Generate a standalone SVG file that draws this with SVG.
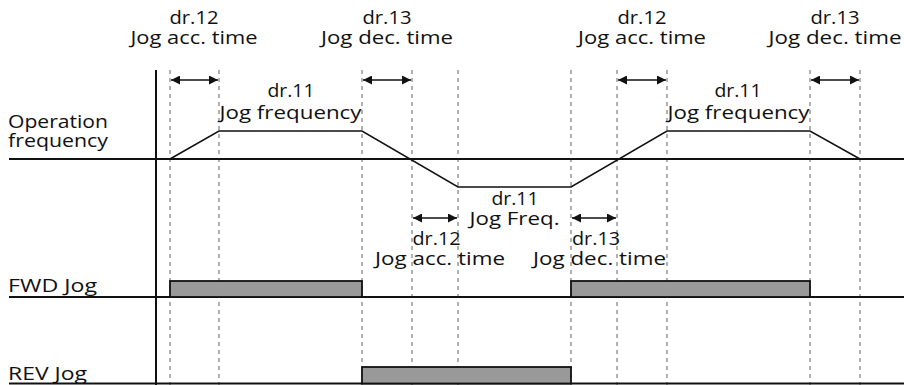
<svg xmlns="http://www.w3.org/2000/svg" width="904" height="385" viewBox="0 0 904 385">
<style>
text{font-family:"Open Sans","Noto Sans",sans-serif;font-size:18px;fill:#111}
.c{text-anchor:middle}
.dash{stroke:#888;stroke-width:1.3;stroke-dasharray:4,4;fill:none}
.base{stroke:#111;stroke-width:2;fill:none}
.wave{stroke:#111;stroke-width:1.5;fill:none}
.arr{stroke:#111;stroke-width:1.5;fill:none;marker-start:url(#ah);marker-end:url(#ah)}
.pulse{fill:#999;stroke:#111;stroke-width:1.8}
</style>
<defs>
<marker id="ah" viewBox="0 0 10 10" refX="10" refY="5" markerWidth="10" markerHeight="9" markerUnits="userSpaceOnUse" orient="auto-start-reverse">
<path d="M0,0 L10,5 L0,10 Z" fill="#111"/>
</marker>
</defs>
<g id="grid">
<line class="dash" x1="170" y1="70" x2="170" y2="385"/>
<line class="dash" x1="219" y1="70" x2="219" y2="385"/>
<line class="dash" x1="362" y1="70" x2="362" y2="385"/>
<line class="dash" x1="412" y1="70" x2="412" y2="385"/>
<line class="dash" x1="458" y1="70" x2="458" y2="385"/>
<line class="dash" x1="571" y1="70" x2="571" y2="385"/>
<line class="dash" x1="617" y1="70" x2="617" y2="385"/>
<line class="dash" x1="667" y1="70" x2="667" y2="385"/>
<line class="dash" x1="810" y1="70" x2="810" y2="385"/>
<line class="dash" x1="860" y1="70" x2="860" y2="385"/>
</g>
<g id="axes">
<line class="base" x1="156" y1="70" x2="156" y2="385"/>
<line class="base" x1="9" y1="159" x2="904" y2="159"/>
<line class="base" x1="9" y1="297" x2="904" y2="297"/>
<line class="base" x1="9" y1="383.5" x2="904" y2="383.5"/>
</g>
<g id="frequency-wave">
<polyline class="wave" points="170,159 219,131 362,131 458,187 571,187 667,131 810,131 860,159"/>
</g>
<g id="fwd-pulses">
<rect class="pulse" x="170" y="281" width="192" height="16"/>
<rect class="pulse" x="571" y="281" width="239" height="16"/>
</g>
<g id="rev-pulse">
<rect class="pulse" x="362" y="367" width="209" height="16.5"/>
</g>
<g id="connectors">
<line class="arr" x1="171" y1="80" x2="218" y2="80"/>
<line class="arr" x1="363" y1="80" x2="411" y2="80"/>
<line class="arr" x1="618" y1="80" x2="666" y2="80"/>
<line class="arr" x1="811" y1="80" x2="859" y2="80"/>
<line class="arr" x1="413" y1="218" x2="457" y2="218"/>
<line class="arr" x1="572" y1="218" x2="616" y2="218"/>
</g>
<g id="labels">
<text class="c" x="194" y="24" textLength="49" lengthAdjust="spacingAndGlyphs">dr.12</text>
<text class="c" x="194" y="43.5" textLength="127" lengthAdjust="spacingAndGlyphs">Jog acc. time</text>
<text class="c" x="387" y="24" textLength="49" lengthAdjust="spacingAndGlyphs">dr.13</text>
<text class="c" x="387" y="43.5" textLength="132" lengthAdjust="spacingAndGlyphs">Jog dec. time</text>
<text class="c" x="642" y="24" textLength="49" lengthAdjust="spacingAndGlyphs">dr.12</text>
<text class="c" x="642" y="43.5" textLength="128" lengthAdjust="spacingAndGlyphs">Jog acc. time</text>
<text class="c" x="835" y="24" textLength="49" lengthAdjust="spacingAndGlyphs">dr.13</text>
<text class="c" x="835" y="43.5" textLength="133" lengthAdjust="spacingAndGlyphs">Jog dec. time</text>
<text class="c" x="291" y="97" textLength="47" lengthAdjust="spacingAndGlyphs">dr.11</text>
<text class="c" x="290.5" y="118.5" textLength="142" lengthAdjust="spacingAndGlyphs">Jog frequency</text>
<text class="c" x="738" y="97" textLength="47" lengthAdjust="spacingAndGlyphs">dr.11</text>
<text class="c" x="738.5" y="118.5" textLength="142" lengthAdjust="spacingAndGlyphs">Jog frequency</text>
<text class="c" x="515" y="205" textLength="47" lengthAdjust="spacingAndGlyphs">dr.11</text>
<text class="c" x="514.5" y="225" textLength="90" lengthAdjust="spacingAndGlyphs">Jog Freq.</text>
<text class="c" x="436.5" y="245" textLength="48" lengthAdjust="spacingAndGlyphs">dr.12</text>
<text class="c" x="440" y="265" textLength="130" lengthAdjust="spacingAndGlyphs">Jog acc. time</text>
<text class="c" x="596" y="245" textLength="48" lengthAdjust="spacingAndGlyphs">dr.13</text>
<text class="c" x="599.5" y="265" textLength="133" lengthAdjust="spacingAndGlyphs">Jog dec. time</text>
<text x="8" y="128" textLength="100" lengthAdjust="spacingAndGlyphs">Operation</text>
<text x="8" y="147" textLength="100" lengthAdjust="spacingAndGlyphs">frequency</text>
<text x="8" y="291.5" textLength="89" lengthAdjust="spacingAndGlyphs">FWD Jog</text>
<text x="8" y="379.5" textLength="79" lengthAdjust="spacingAndGlyphs">REV Jog</text>
</g>
</svg>
